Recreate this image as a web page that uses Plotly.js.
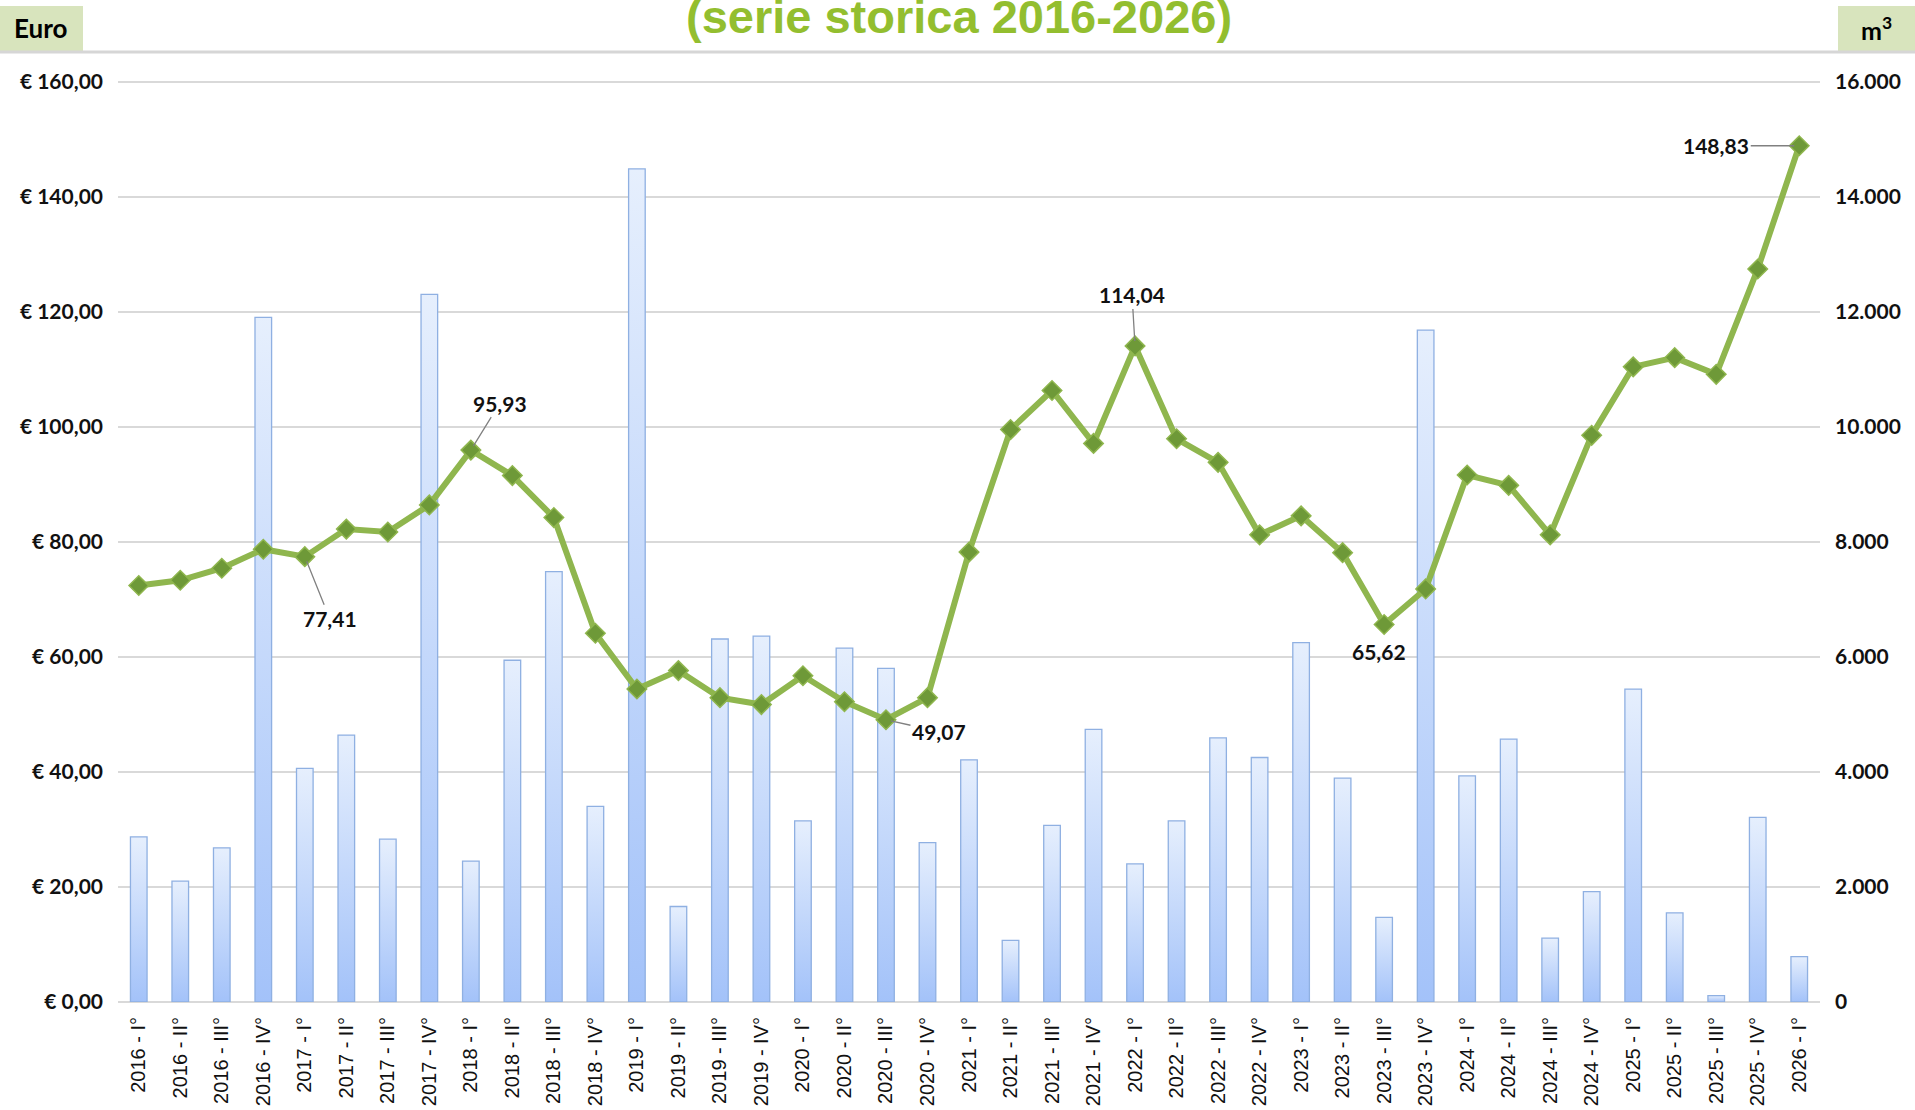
<!DOCTYPE html>
<html>
<head>
<meta charset="utf-8">
<script src="https://cdn.plot.ly/plotly-3.0.1.min.js"></script>
<style>
  html, body { margin: 0; padding: 0; background: #ffffff; }
  #chart { width: 1915px; height: 1110px; }
</style>
</head>
<body>
<div id="chart"></div>
<script>
// ---- Data ----
const categories = [
  "2016 - I°", "2016 - II°", "2016 - III°", "2016 - IV°",
  "2017 - I°", "2017 - II°", "2017 - III°", "2017 - IV°",
  "2018 - I°", "2018 - II°", "2018 - III°", "2018 - IV°",
  "2019 - I°", "2019 - II°", "2019 - III°", "2019 - IV°",
  "2020 - I°", "2020 - II°", "2020 - III°", "2020 - IV°",
  "2021 - I°", "2021 - II°", "2021 - III°", "2021 - IV°",
  "2022 - I°", "2022 - II°", "2022 - III°", "2022 - IV°",
  "2023 - I°", "2023 - II°", "2023 - III°", "2023 - IV°",
  "2024 - I°", "2024 - II°", "2024 - III°", "2024 - IV°",
  "2025 - I°", "2025 - II°", "2025 - III°", "2025 - IV°",
  "2026 - I°"
];

// Volumes (m³) – bars, right axis
const volumes = [
  2870, 2100, 2680, 11900,
  4060, 4640, 2830, 12300,
  2450, 5940, 7480, 3400,
  14480, 1660, 6310, 6360,
  3150, 6150, 5800, 2770,
  4210, 1070, 3070, 4740,
  2400, 3150, 4590, 4250,
  6245, 3890, 1470, 11680,
  3930, 4570, 1110, 1920,
  5440, 1550, 110, 3210,
  790
];

// Prices (Euro) – line, left axis
const prices = [
  72.4, 73.3, 75.4, 78.7,
  77.41, 82.2, 81.7, 86.4,
  95.93, 91.5, 84.2, 64.1,
  54.4, 57.6, 52.9, 51.7,
  56.7, 52.2, 49.07, 52.9,
  78.2, 99.5, 106.3, 97.1,
  114.04, 97.9, 93.8, 81.2,
  84.5, 78.1, 65.62, 71.8,
  91.6, 89.8, 81.2, 98.5,
  110.4, 112.0, 109.1, 127.4,
  148.83
];

// Labelled points: index, label text
const labelIdx = [4, 8, 18, 24, 30, 40];
const labelTxt = ["77,41", "95,93", "49,07", "114,04", "65,62", "148,83"];

const euroTicks = [0, 20, 40, 60, 80, 100, 120, 140, 160];
const euroTickText = ["€ 0,00", "€ 20,00", "€ 40,00", "€ 60,00", "€ 80,00", "€ 100,00", "€ 120,00", "€ 140,00", "€ 160,00"];
const volTicks = [0, 2000, 4000, 6000, 8000, 10000, 12000, 14000, 16000];
const volTickText = ["0", "2.000", "4.000", "6.000", "8.000", "10.000", "12.000", "14.000", "16.000"];

const titleText = "(serie storica 2016-2026)";
const leftUnit = "Euro";
const rightUnit = "m<sup>3</sup>";

// ---- Styling ----
const labelFont = { family: "Lato, 'Liberation Sans', sans-serif", size: 21, color: "#111111", weight: "bold" };

const barTrace = {
  type: "bar",
  x: categories,
  y: volumes,
  yaxis: "y",
  width: 0.4,
  marker: { color: "#c6dafc", line: { color: "#8fb0e2", width: 1.3 } },
  hoverinfo: "x+y"
};

const lineTrace = {
  type: "scatter",
  mode: "lines+markers",
  x: categories,
  y: prices,
  yaxis: "y2",
  line: { color: "#8fb64e", width: 6 },
  marker: { symbol: "diamond", size: 15, color: "#6e9938", line: { color: "#8fb64e", width: 1.5 } },
  cliponaxis: false
};

// label offsets (pixels) – style only
const offs = [[25, 62], [29, -47], [53, 12], [-3, -51], [-5, 27], [-83, 0]];
const arrows = [true, true, true, true, false, true];

const annotations = labelIdx.map((idx, k) => {
  const a = {
    x: categories[idx], y: prices[idx], xref: "x", yref: "y2",
    text: "<b>" + labelTxt[k] + "</b>",
    font: { family: "Lato, 'Liberation Sans', sans-serif", size: 21, color: "#111111" },
    showarrow: arrows[k],
    arrowhead: 0, arrowwidth: 1.3, arrowcolor: "#808080", standoff: 5,
    ax: offs[k][0], ay: offs[k][1]
  };
  if (!arrows[k]) { a.xshift = offs[k][0]; a.yshift = -offs[k][1]; }
  return a;
});

// title
annotations.push({
  xref: "paper", yref: "paper", x: 0.494, y: 1, xanchor: "center", yanchor: "middle",
  yshift: 54, showarrow: false,
  text: "<b>" + titleText + "</b>",
  font: { family: "'Liberation Sans', Arial, sans-serif", size: 47, color: "#93be2f" }
});
// unit labels
annotations.push({
  xref: "paper", yref: "paper", x: 0, y: 1, xanchor: "center", yanchor: "middle",
  xshift: -77, yshift: 42, showarrow: false,
  text: "<b>" + leftUnit + "</b>",
  font: { family: "Lato, 'Liberation Sans', sans-serif", size: 26, color: "#000000" }
});
annotations.push({
  xref: "paper", yref: "paper", x: 1, y: 1, xanchor: "center", yanchor: "middle",
  xshift: 56, yshift: 42, showarrow: false,
  text: "<b>" + rightUnit + "</b>",
  font: { family: "Lato, 'Liberation Sans', sans-serif", size: 25, color: "#000000" }
});

const shapes = [
  // Euro box
  { type: "rect", xref: "paper", yref: "paper", xsizemode: "pixel", ysizemode: "pixel",
    xanchor: 0, yanchor: 1, x0: -118, x1: -35, y0: 19, y1: 64,
    fillcolor: "#d8e4bd", line: { width: 0 }, layer: "below" },
  // m3 box
  { type: "rect", xref: "paper", yref: "paper", xsizemode: "pixel", ysizemode: "pixel",
    xanchor: 1, yanchor: 1, x0: 18, x1: 95, y0: 19, y1: 64,
    fillcolor: "#d8e4bd", line: { width: 0 }, layer: "below" },
  // header separator line
  { type: "line", xref: "paper", yref: "paper", xsizemode: "pixel", ysizemode: "pixel",
    xanchor: 0, yanchor: 1, x0: -118, x1: 1797, y0: 18, y1: 18,
    line: { color: "#d6d6d6", width: 3 } }
];

const layout = {
  width: 1915, height: 1110,
  margin: { l: 118, r: 95, t: 70, b: 108, pad: 0 },
  paper_bgcolor: "#ffffff", plot_bgcolor: "#ffffff",
  separators: ",.",
  showlegend: false,
  bargap: 0.6,
  xaxis: {
    type: "category", range: [-0.5, 40.5],
    tickangle: -90, ticks: "", showgrid: false, zeroline: false, showline: false,
    tickfont: { family: "'Liberation Sans', Arial, sans-serif", size: 20, color: "#111111" },
    ticklabelstandoff: 10, automargin: false
  },
  yaxis: {
    side: "right", range: [0, 16200], tickmode: "array", tickvals: volTicks, ticktext: volTickText,
    showgrid: true, gridcolor: "#d9d9d9", gridwidth: 2,
    zeroline: true, zerolinecolor: "#d9d9d9", zerolinewidth: 2,
    showline: false, ticks: "",
    tickfont: labelFont, ticklabelstandoff: 14, automargin: false
  },
  yaxis2: {
    overlaying: "y", side: "left", range: [0, 162], tickmode: "array",
    tickvals: euroTicks, ticktext: euroTickText,
    showgrid: false, zeroline: false, showline: false, ticks: "",
    tickfont: labelFont, ticklabelstandoff: 14, automargin: false
  },
  annotations: annotations,
  shapes: shapes
};

Plotly.newPlot("chart", [barTrace, lineTrace], layout, { displayModeBar: false, staticPlot: true }).then(function (gd) {
  // vertical gradient on bars (light top -> darker bottom)
  const svg = gd.querySelector(".main-svg");
  const ns = "http://www.w3.org/2000/svg";
  let defs = svg.querySelector("defs");
  if (!defs) { defs = document.createElementNS(ns, "defs"); svg.insertBefore(defs, svg.firstChild); }
  const grad = document.createElementNS(ns, "linearGradient");
  grad.setAttribute("id", "barGrad");
  grad.setAttribute("x1", "0"); grad.setAttribute("y1", "0");
  grad.setAttribute("x2", "0"); grad.setAttribute("y2", "1");
  [["0%", "#e6effd"], ["100%", "#a3c2f9"]].forEach(function (s) {
    const st = document.createElementNS(ns, "stop");
    st.setAttribute("offset", s[0]); st.setAttribute("stop-color", s[1]);
    grad.appendChild(st);
  });
  defs.appendChild(grad);
  gd.querySelectorAll(".barlayer .point path").forEach(function (p) {
    p.style.fill = "url(#barGrad)";
  });
});
</script>
</body>
</html>
